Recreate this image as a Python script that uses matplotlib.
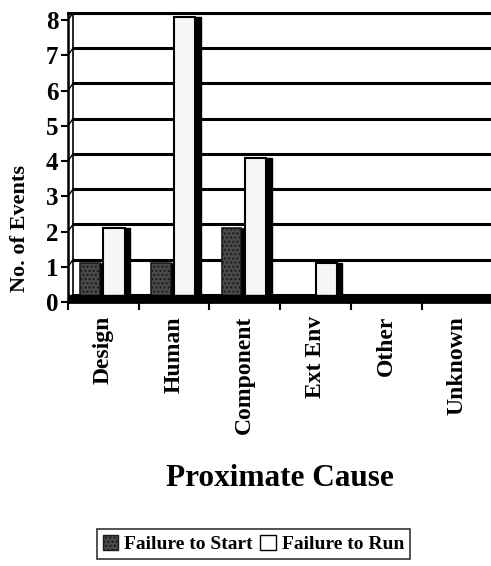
import matplotlib
matplotlib.use("Agg")
import matplotlib.pyplot as plt
import numpy as np
from matplotlib.patches import Patch

# ====== Data ======
causes = ["Design", "Human", "Component", "Ext Env", "Other", "Unknown"]
fail_start = [1, 1, 2, 0, 0, 0]
fail_run = [2, 8, 4, 1, 0, 0]
y_ticks = [0, 1, 2, 3, 4, 5, 6, 7, 8]

plt.rcParams["font.family"] = ["Liberation Serif", "DejaVu Serif"]
plt.rcParams["font.weight"] = "bold"

DEPTH = 0.2      # back wall offset (y units)
WALL_DX = 0.07   # back wall offset (x units)

fig = plt.figure(figsize=(4.91, 5.66), dpi=100)
ax = fig.add_axes([68 / 491, 1 - 302 / 566, 1 - 68 / 491 + 0.003, (302 - 13) / 566])

x = np.arange(len(causes))
start = np.array(fail_start, dtype=float)
run = np.array(fail_run, dtype=float)

# back wall gridlines + side wall
for v in y_ticks:
    ax.plot([WALL_DX, len(causes)], [v + DEPTH, v + DEPTH], color="black", lw=2.2, zorder=1)
    ax.plot([0, WALL_DX], [v, v + DEPTH], color="black", lw=1, zorder=1)
ax.plot([WALL_DX, WALL_DX], [DEPTH, y_ticks[-1] + DEPTH], color="black", lw=1.2, zorder=1)

# bars (skip zeros)
ms = start > 0
mr = run > 0
ax.bar(x[ms] + 0.17, start[ms] + 0.1, width=0.28, align="edge", bottom=0,
       facecolor="#4a4a4a", edgecolor="#1a1a1a", hatch="....", lw=1.2, zorder=3)
ax.bar(x[mr] + 0.50, run[mr] + 0.1, width=0.30, align="edge", bottom=0,
       facecolor="#f6f6f6", edgecolor="black", lw=1.5, zorder=3)
# side faces
ax.bar(x[mr] + 0.80, run[mr] + 0.1, width=0.08, align="edge", bottom=0,
       facecolor="black", edgecolor="black", lw=1, zorder=3)
ax.bar(x[ms] + 0.45, start[ms] + 0.1, width=0.04, align="edge", bottom=0,
       facecolor="black", edgecolor="black", lw=0.5, zorder=3)

# floor
ax.axhspan(0, DEPTH, color="black", zorder=4)

ax.set_xlim(0, len(causes))
ax.set_ylim(0, y_ticks[-1] + DEPTH)

ax.set_xticks(np.arange(len(causes) + 1))
ax.set_xticklabels([])
ax.set_xticks(x + 0.5, minor=True)
ax.set_xticklabels(causes, minor=True, rotation=90, fontsize=17, fontweight="bold",
                   va="top", ha="center")
ax.tick_params(axis="x", which="major", direction="out", length=6, width=1.5)
ax.tick_params(axis="x", which="minor", length=0, pad=10)

ax.set_yticks(y_ticks)
ax.set_yticklabels([str(v) for v in y_ticks], fontsize=18, fontweight="bold")
ax.tick_params(axis="y", direction="out", length=5, width=1.5, pad=2)

ax.spines["right"].set_visible(False)
ax.spines["left"].set_linewidth(1.8)
ax.spines["top"].set_linewidth(2.2)
ax.spines["bottom"].set_linewidth(2)

fig.text(0.04, 0.597, "No. of Events", rotation=90, ha="center", va="center",
         fontsize=16, fontweight="bold")
fig.text(0.57, 0.155, "Proximate Cause", ha="center", va="center",
         fontsize=22.5, fontweight="bold")

# ====== Legend ======
handles = [Patch(facecolor="#4a4a4a", edgecolor="#1a1a1a", hatch="...."),
           Patch(facecolor="white", edgecolor="black")]
leg = fig.legend(handles, ["Failure to Start", "Failure to Run"], ncol=2,
                 loc="upper center", bbox_to_anchor=(0.516, 1 - 529 / 566),
                 prop={"weight": "bold", "size": 14}, frameon=True, fancybox=False,
                 handlelength=0.8, handleheight=0.8, handletextpad=0.3,
                 columnspacing=0.4, borderpad=0.3, borderaxespad=0)
leg.get_frame().set_edgecolor("black")
leg.get_frame().set_linewidth(1.2)

fig.savefig("out.png", dpi=100)
